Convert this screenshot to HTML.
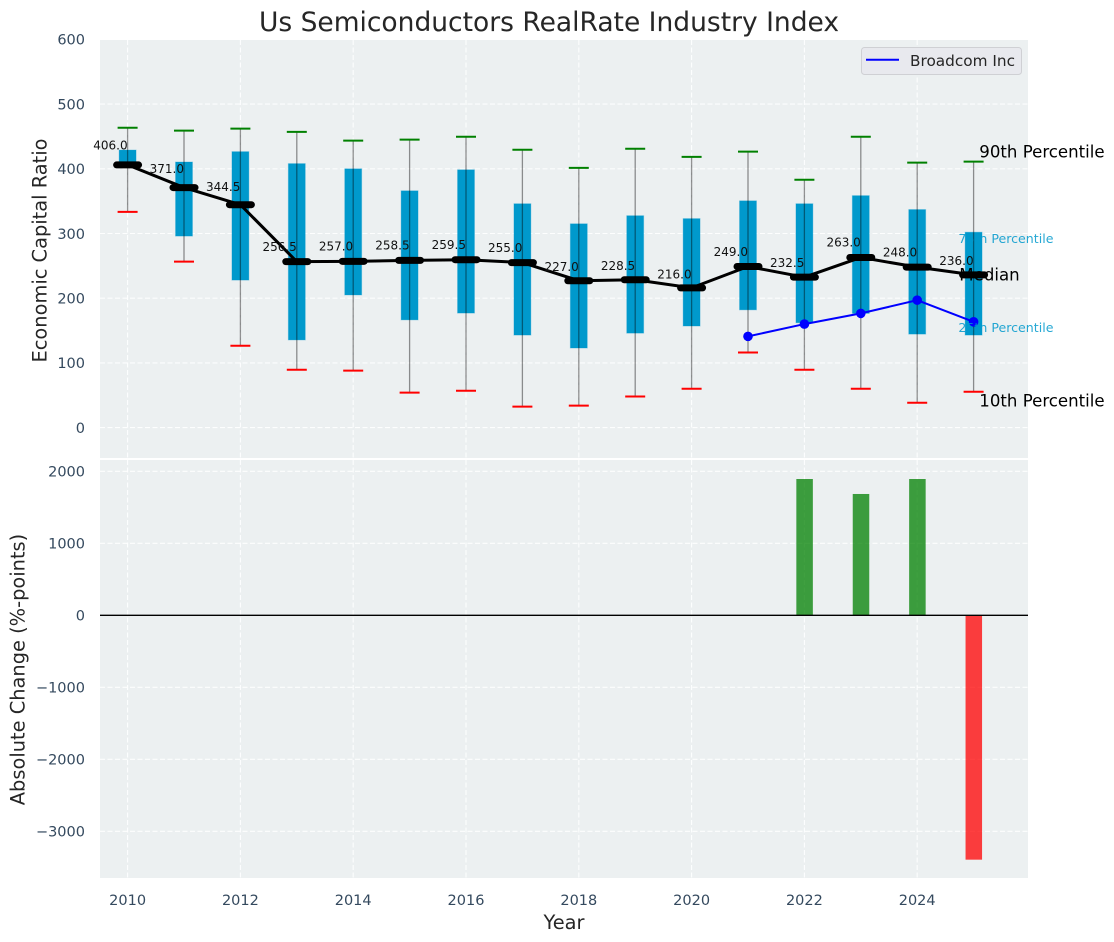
<!DOCTYPE html>
<html lang="en">
<head>
<meta charset="utf-8">
<title>Us Semiconductors RealRate Industry Index</title>
<style>
  html, body { margin: 0; padding: 0; background: #fff; width: 1114px; height: 942px; overflow: hidden; }
  svg { display: block; font-family: "DejaVu Sans", "Liberation Sans", sans-serif; }
  .tick { font-size: 14.5px; fill: #34495e; }
  .axis-title { font-size: 19.4px; fill: #262626; }
  .median-label { font-size: 12px; fill: #111; }
  .big-note { font-size: 16.6px; fill: #000; }
  .small-note { font-size: 12.6px; fill: #0099cc; fill-opacity: .85; }
</style>
</head>
<body>
<svg id="chart" xmlns="http://www.w3.org/2000/svg" width="1114" height="942" viewBox="0 0 1114 942">
  <rect x="100" y="40" width="928" height="418" fill="#ecf0f1"/>
  <rect x="100" y="460" width="928" height="418" fill="#ecf0f1"/>
  <g id="grid"></g>
  <g id="boxes"></g>
  <g id="whiskers"></g>
  <g id="medians"></g>
  <g id="company"></g>
  <g id="changes"></g>
  <g id="ticks"></g>
  <g id="labels"></g>
  <g id="notes"></g>

  <text x="549" y="31" text-anchor="middle" font-size="26.5px" fill="#262626">Us Semiconductors RealRate Industry Index</text>
  <text class="axis-title" transform="translate(46.5 250.5) rotate(-90)" text-anchor="middle">Economic Capital Ratio</text>
  <text class="axis-title" transform="translate(24.5 669.5) rotate(-90)" text-anchor="middle">Absolute Change (%-points)</text>
  <text class="axis-title" x="564" y="929" text-anchor="middle">Year</text>

  <g>
    <rect x="861.5" y="47.5" width="160" height="27" rx="3" fill="#e8e9ee" stroke="#cfd0d4"/>
    <line x1="866" x2="899" y1="59.7" y2="59.7" stroke="#0000ff" stroke-width="2"/>
    <text x="910" y="66" font-size="15.3px" fill="#262626">Broadcom Inc</text>
  </g>
</svg>
<script>
const years = [2010, 2011, 2012, 2013, 2014, 2015, 2016, 2017, 2018, 2019, 2020, 2021, 2022, 2023, 2024, 2025];
const p90 = [463.5, 459, 462, 457, 443.5, 445, 449.5, 429.5, 401.5, 431, 418.5, 426.5, 383, 449.5, 409.5, 411];
const p75 = [429, 410.5, 426.5, 408, 400, 366, 398.5, 346, 315, 327.5, 323, 350.5, 346, 358.5, 337, 302];
const medians = [406.0, 371.0, 344.5, 256.5, 257.0, 258.5, 259.5, 255.0, 227.0, 228.5, 216.0, 249.0, 232.5, 263.0, 248.0, 236.0];
const p25 = [404, 296, 228, 135.5, 205, 166.5, 177, 143, 123, 146, 157, 182, 162, 176.5, 144.5, 143];
const p10 = [333.5, 256.5, 126.5, 89.5, 88, 54, 57, 32.5, 34, 48, 60, 116, 89.5, 60, 38.5, 55.5];
const companyYears = [2021, 2022, 2023, 2024, 2025];
const companyValues = [141, 160, 176.5, 197, 163.5];
const changeYears = [2022, 2023, 2024, 2025];
const changeValues = [1893, 1685, 1893, -3394];
const xTicks = [2010, 2012, 2014, 2016, 2018, 2020, 2022, 2024];
const topTicks = [0, 100, 200, 300, 400, 500, 600];
const bottomTicks = [-3000, -2000, -1000, 0, 1000, 2000];

const NS = 'http://www.w3.org/2000/svg';
const xAxis = v => 127.6 + (v - 2010) * 56.4;
const yTop = v => 427.6 - v * 0.647;
const yBottom = v => 615.3 - v * 0.072;

function add(parentId, tag, name, attrs, text) {
  const el = document.createElementNS(NS, tag);
  
  
  for (const k in attrs) el.setAttribute(k, attrs[k]);
  if (text !== undefined) el.textContent = text;
  document.getElementById(parentId).appendChild(el);
  return el;
}

const gridStyle = { stroke: '#ffffff', 'stroke-width': 1.1, 'stroke-dasharray': '5 2.5', 'stroke-opacity': 0.9 };
xTicks.forEach(t => {
  add('grid', 'line', 'x-grid-top-' + t, Object.assign({ x1: xAxis(t), x2: xAxis(t), y1: 40, y2: 458 }, gridStyle));
  add('grid', 'line', 'x-grid-bottom-' + t, Object.assign({ x1: xAxis(t), x2: xAxis(t), y1: 460, y2: 878 }, gridStyle));
  add('ticks', 'text', 'x-tick-' + t, { class: 'tick', x: xAxis(t), y: 905, 'text-anchor': 'middle' }, t);
});
topTicks.forEach(t => {
  add('grid', 'line', 'y-grid-top-' + t, Object.assign({ x1: 100, x2: 1028, y1: yTop(t), y2: yTop(t) }, gridStyle));
  add('ticks', 'text', 'y-tick-top-' + t, { class: 'tick', x: 85, y: yTop(t) + 5.3, 'text-anchor': 'end' }, t);
});
bottomTicks.forEach(t => {
  add('grid', 'line', 'y-grid-bottom-' + t, Object.assign({ x1: 100, x2: 1028, y1: yBottom(t), y2: yBottom(t) }, gridStyle));
  add('ticks', 'text', 'y-tick-bottom-' + t, { class: 'tick', x: 85, y: yBottom(t) + 5.3, 'text-anchor': 'end' }, String(t).replace('-', '\u2212'));
});

const boxWidth = 0.3;
years.forEach((yr, i) => {
  const cx = xAxis(yr);
  add('boxes', 'rect', 'box-' + yr, {
    x: xAxis(yr - boxWidth / 2), y: yTop(p75[i]),
    width: xAxis(yr + boxWidth / 2) - xAxis(yr - boxWidth / 2),
    height: yTop(p25[i]) - yTop(p75[i]),
    fill: '#0099cc', stroke: '#0099cc', 'stroke-opacity': 0.3, 'stroke-width': 1
  });
  add('whiskers', 'line', 'whisker-' + yr, { x1: cx, x2: cx, y1: yTop(p90[i]), y2: yTop(p10[i]), stroke: '#000', 'stroke-opacity': 0.42, 'stroke-width': 1.3 });
  add('whiskers', 'line', 'cap-p90-' + yr, { x1: cx - 10, x2: cx + 10, y1: yTop(p90[i]), y2: yTop(p90[i]), stroke: '#008000', 'stroke-width': 2 });
  add('whiskers', 'line', 'cap-p10-' + yr, { x1: cx - 10, x2: cx + 10, y1: yTop(p10[i]), y2: yTop(p10[i]), stroke: '#ff0000', 'stroke-width': 2 });
});

add('medians', 'polyline', 'median-line', {
  points: years.map((yr, i) => xAxis(yr) + ',' + yTop(medians[i])).join(' '),
  fill: 'none', stroke: '#000', 'stroke-width': 3
});
years.forEach((yr, i) => {
  add('medians', 'line', 'median-marker-' + yr, {
    x1: xAxis(yr) - 11, x2: xAxis(yr) + 11, y1: yTop(medians[i]), y2: yTop(medians[i]),
    stroke: '#000', 'stroke-width': 7, 'stroke-linecap': 'round'
  });
  add('labels', 'text', 'median-label-' + yr, {
    class: 'median-label', x: xAxis(yr), y: yTop(medians[i] * 1.05) - 2.5, 'text-anchor': 'end'
  }, medians[i].toFixed(1));
});

add('company', 'polyline', 'broadcom-line', {
  points: companyYears.map((yr, i) => xAxis(yr) + ',' + yTop(companyValues[i])).join(' '),
  fill: 'none', stroke: '#0000ff', 'stroke-width': 2
});
companyYears.forEach((yr, i) => {
  add('company', 'circle', 'broadcom-point-' + yr, { cx: xAxis(yr), cy: yTop(companyValues[i]), r: 4.8, fill: '#0000ff' });
});

changeYears.forEach((yr, i) => {
  const v = changeValues[i];
  const color = v >= 0 ? '#008000' : '#ff0000';
  add('changes', 'rect', 'change-bar-' + yr, {
    x: xAxis(yr - boxWidth / 2) + 0.4, y: Math.min(yBottom(v), yBottom(0)),
    width: xAxis(yr + boxWidth / 2) - xAxis(yr - boxWidth / 2) - 0.4,
    height: Math.abs(yBottom(v) - yBottom(0)),
    fill: color, 'fill-opacity': 0.75
  });
});
add('changes', 'line', 'zero-line', { x1: 100, x2: 1028, y1: yBottom(0), y2: yBottom(0), stroke: '#000', 'stroke-width': 1.3 });

const last = years.length - 1;
const lastX = xAxis(years[last]);
add('notes', 'text', 'note-90th-percentile', { class: 'big-note', x: lastX + 5.7, y: yTop(p90[last]) - 4.4 }, '90th Percentile');
add('notes', 'text', 'note-10th-percentile', { class: 'big-note', x: lastX + 5.7, y: yTop(p10[last]) + 15 }, '10th Percentile');
add('notes', 'text', 'note-median', { class: 'big-note', x: lastX - 14.3, y: yTop(medians[last]) + 5.5 }, 'Median');
add('notes', 'text', 'note-75th-percentile', { class: 'small-note', x: lastX - 15.2, y: yTop(p75[last]) + 11 }, '75th Percentile');
add('notes', 'text', 'note-25th-percentile', { class: 'small-note', x: lastX - 15.2, y: yTop(p25[last]) - 3 }, '25th Percentile');
</script>
</body>
</html>
